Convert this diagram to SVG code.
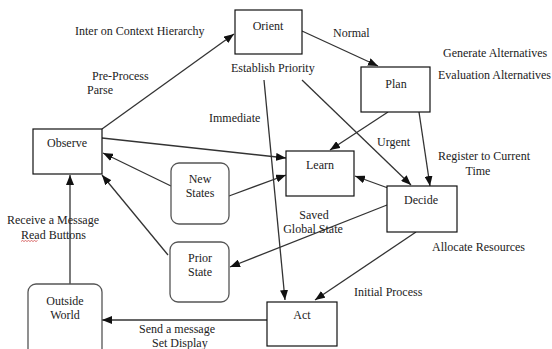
<svg xmlns="http://www.w3.org/2000/svg" width="552" height="349" viewBox="0 0 552 349">
<defs>
<marker id="arr" markerUnits="userSpaceOnUse" markerWidth="10" markerHeight="8" refX="10" refY="4" orient="auto">
<path d="M0,0 L10,4 L0,8 z" fill="#111"/>
</marker>
<style>
.box{fill:#fff;stroke:#111;stroke-width:1.2}
.rbox{fill:#fff;stroke:#555;stroke-width:1.3}
text{font-family:'Liberation Serif','DejaVu Serif',serif;font-size:12px;fill:#222}
.c{text-anchor:middle}
.e{stroke:#333;stroke-width:1.3;fill:none;marker-end:url(#arr)}
</style>
</defs>
<rect width="552" height="349" fill="#fff"/>
<g id="connectors">
<line class="e" x1="102" y1="129" x2="234" y2="34"/>
<line class="e" x1="302" y1="31" x2="378" y2="66"/>
<line class="e" x1="302" y1="80" x2="411" y2="185"/>
<line class="e" x1="264" y1="80" x2="285" y2="300"/>
<line class="e" x1="388" y1="112" x2="330" y2="150"/>
<line class="e" x1="419" y1="112" x2="430" y2="186"/>
<line class="e" x1="102" y1="138" x2="286" y2="158"/>
<line class="e" x1="171" y1="186" x2="103" y2="153"/>
<line class="e" x1="229" y1="196" x2="286" y2="175"/>
<line class="e" x1="168" y1="255" x2="102" y2="175"/>
<line class="e" x1="387" y1="205" x2="230" y2="267"/>
<line class="e" x1="388" y1="188" x2="355" y2="176"/>
<line class="e" x1="416" y1="232" x2="315" y2="300"/>
<line class="e" x1="70" y1="284" x2="70" y2="175"/>
<line class="e" x1="267" y1="320" x2="102" y2="320"/>
</g>
<g id="orient"><rect class="box" x="235" y="10" width="67" height="44"/><text class="c" x="268" y="30">Orient</text></g>
<g id="plan"><rect class="box" x="361" y="67" width="69" height="45"/><text class="c" x="396" y="88">Plan</text></g>
<g id="observe"><rect class="box" x="33" y="129" width="69" height="45"/><text class="c" x="67" y="147">Observe</text></g>
<g id="learn"><rect class="box" x="286" y="151" width="68" height="45"/><text class="c" x="320" y="169">Learn</text></g>
<g id="decide"><rect class="box" x="387" y="186" width="70" height="46"/><text class="c" x="421" y="204">Decide</text></g>
<g id="act"><rect class="box" x="267" y="302" width="70" height="44"/><text class="c" x="302" y="319">Act</text></g>
<g id="newstates"><rect class="rbox" x="171" y="163" width="58" height="61" rx="8"/><text class="c" x="200" y="183">New</text><text class="c" x="200" y="197">States</text></g>
<g id="priorstate"><rect class="rbox" x="170" y="242" width="59" height="60" rx="8"/><text class="c" x="200" y="262">Prior</text><text class="c" x="200" y="276">State</text></g>
<g id="outsideworld"><rect class="rbox" x="28" y="284" width="74" height="80" rx="8"/><text class="c" x="65" y="305">Outside</text><text class="c" x="65" y="319">World</text></g>
<g id="labels">
<text x="75" y="35">Inter on Context Hierarchy</text>
<text x="333" y="37">Normal</text>
<text x="443" y="57">Generate Alternatives</text>
<text x="438" y="79">Evaluation Alternatives</text>
<text x="92" y="80">Pre-Process</text>
<text x="87" y="94">Parse</text>
<text x="231" y="72">Establish Priority</text>
<text x="209" y="122">Immediate</text>
<text x="377" y="146">Urgent</text>
<text x="438" y="160">Register to Current</text>
<text class="c" x="478" y="175">Time</text>
<text class="c" x="314" y="219">Saved</text>
<text class="c" x="313" y="233">Global State</text>
<text x="432" y="251">Allocate Resources</text>
<text x="354" y="296">Initial Process</text>
<text x="7" y="224">Receive a Message</text>
<text x="21" y="239">Read Buttons</text>
<path d="M21,241.5 l1.5,-1 l1.5,1 l1.5,-1 l1.5,1 l1.5,-1 l1.5,1 l1.5,-1 l1.5,1 l1.5,-1 l1.5,1 l1.5,-1" fill="none" stroke="#c33" stroke-width="0.7"/>
<text x="139" y="333">Send a message</text>
<text x="152" y="347">Set Display</text>
</g>
</svg>
